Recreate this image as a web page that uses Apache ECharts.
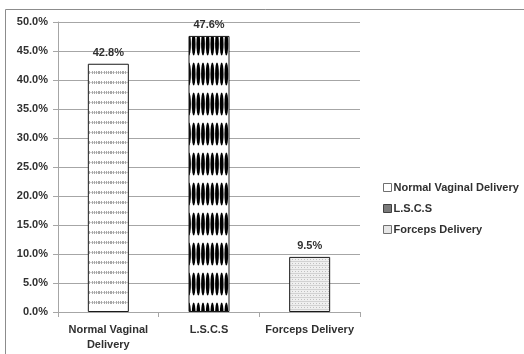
<!DOCTYPE html>
<html>
<head>
<meta charset="utf-8">
<script src="https://cdn.jsdelivr.net/npm/echarts@6/dist/echarts.min.js"></script>
<style>
  html, body { margin: 0; padding: 0; background: #fff; }
  #chart { width: 524px; height: 354px; }
</style>
</head>
<body>
<div id="chart"></div>
<script>
// Mode of delivery, share of cases (%)
const categories = ['Normal Vaginal\nDelivery', 'L.S.C.S', 'Forceps Delivery'];
const seriesNames = ['Normal Vaginal Delivery', 'L.S.C.S', 'Forceps Delivery'];
const values = [42.8, 47.6, 9.5];
const yTicks = [0, 5, 10, 15, 20, 25, 30, 35, 40, 45, 50];

// --- fill patterns -------------------------------------------------------
function makeTile(w, h, draw) {
  const c = document.createElement('canvas');
  c.width = w; c.height = h;
  draw(c.getContext('2d'));
  return c;
}

// rows of small grey dashes
const dashTile = makeTile(12, 10, g => {
  g.fillStyle = '#ffffff';
  g.fillRect(0, 0, 12, 10);
  g.fillStyle = '#cfcfcf';
  g.fillRect(0, 2, 12, 1);
  g.fillStyle = '#a8a8a8';
  [0, 2, 3, 5, 8, 10].forEach(x => g.fillRect(x, 1, 1, 3));
});

// columns of tall black ellipses
const ellipseTile = makeTile(14, 30, g => {
  g.fillStyle = '#ffffff';
  g.fillRect(0, 0, 14, 30);
  g.fillStyle = '#000000';
  [2.33, 7, 11.67].forEach(cx => {
    g.beginPath();
    g.ellipse(cx, 14, 1.9, 11.5, 0, 0, Math.PI * 2);
    g.fill();
  });
});

// fine light grey stipple
const stippleTile = makeTile(6, 4, g => {
  g.fillStyle = '#efefef';
  g.fillRect(0, 0, 6, 4);
  g.fillStyle = '#d2d2d2';
  g.fillRect(0, 1, 6, 1);
  g.fillStyle = '#c0c0c0';
  g.fillRect(1, 3, 1, 1);
  g.fillRect(4, 3, 1, 1);
});

const fills = [
  { image: dashTile, repeat: 'repeat' },
  { image: ellipseTile, repeat: 'repeat' },
  { image: stippleTile, repeat: 'repeat' }
];
const legendFills = [
  { color: '#ffffff', borderColor: '#707070' },
  { color: '#7a7a7a', borderColor: '#404040' },
  { color: '#e6e6e6', borderColor: '#707070' }
];

const textColor = '#303030';
const lineColor = '#a6a6a6';
const font = 'Liberation Sans';

const chart = echarts.init(document.getElementById('chart'), null, { renderer: 'canvas' });

const series = seriesNames.map((name, i) => ({
  name,
  type: 'bar',
  stack: 'mode',
  barWidth: 41,
  data: values.map((v, j) => (j === i ? v : '-')),
  itemStyle: { color: fills[i], borderColor: '#1a1a1a', borderWidth: 1 },
  label: {
    show: true,
    position: 'top',
    distance: 5,
    color: textColor,
    fontFamily: font,
    fontWeight: 'bold',
    fontSize: 11,
    formatter: p => p.value.toFixed(1) + '%'
  },
  emphasis: { disabled: true }
}));

chart.setOption({
  animation: false,
  backgroundColor: '#ffffff',
  graphic: [{
    type: 'rect',
    shape: { x: 5.5, y: 9.5, width: 600, height: 400 },
    style: { fill: 'none', stroke: '#8c8c8c', lineWidth: 1 },
    silent: true,
    z: -1
  }],
  grid: { left: 58, right: 164, top: 22, bottom: 42 },
  legend: {
    orient: 'vertical',
    left: 378,
    top: 177,
    itemWidth: 8,
    itemHeight: 8,
    itemGap: 10,
    icon: 'rect',
    textStyle: { color: textColor, fontFamily: font, fontWeight: 'bold', fontSize: 11, padding: [0, 0, 0, -3] },
    data: seriesNames.map((n, i) => ({
      name: n,
      itemStyle: { color: legendFills[i].color, borderColor: legendFills[i].borderColor, borderWidth: 1 }
    }))
  },
  xAxis: {
    type: 'category',
    data: categories,
    axisLine: { lineStyle: { color: lineColor } },
    axisTick: { show: true, length: 5, lineStyle: { color: lineColor } },
    axisLabel: {
      color: textColor, fontFamily: font, fontWeight: 'bold', fontSize: 11,
      margin: 10, lineHeight: 15, interval: 0
    }
  },
  yAxis: {
    type: 'value',
    min: yTicks[0],
    max: yTicks[yTicks.length - 1],
    interval: yTicks[1] - yTicks[0],
    axisLine: { show: true, lineStyle: { color: lineColor } },
    axisTick: { show: true, length: 5, lineStyle: { color: lineColor } },
    splitLine: { lineStyle: { color: lineColor } },
    axisLabel: {
      color: textColor, fontFamily: font, fontWeight: 'bold', fontSize: 11,
      margin: 10,
      formatter: v => v.toFixed(1) + '%'
    }
  },
  series
});
</script>
</body>
</html>
